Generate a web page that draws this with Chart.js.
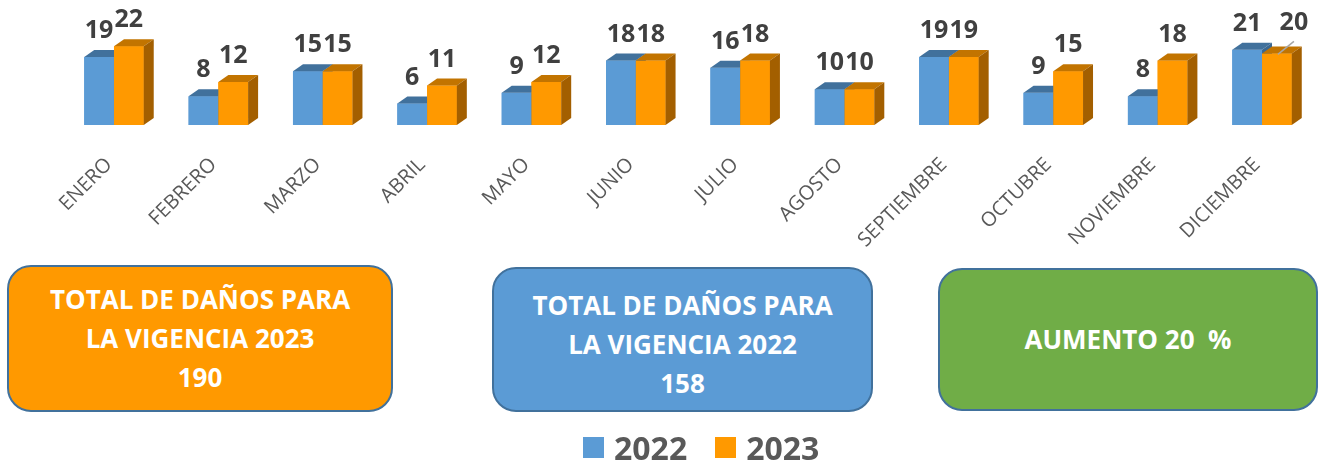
<!DOCTYPE html>
<html><head><meta charset="utf-8">
<script src="https://cdn.jsdelivr.net/npm/chart.js@4.4.1/dist/chart.umd.min.js"></script>
<style>
html,body{margin:0;padding:0;background:#fff;overflow:hidden}
#wrap{position:relative;width:1319px;height:463px;font-family:"Open Sans",sans-serif}
#c{position:absolute;left:0;top:0}
.box{position:absolute;box-sizing:border-box;border:2px solid #41719C;border-radius:24px;color:#fff;font-weight:700;font-size:26px;line-height:39px;display:flex;align-items:center;justify-content:center;text-align:center;white-space:pre}
#legend{position:absolute;left:583px;top:424px;height:46px;display:flex;align-items:center;font-weight:700;font-size:32px;color:#595959}
#legend .sw{width:21px;height:21px;margin-right:10px}
#legend .it{display:flex;align-items:center;margin-right:28px}
</style></head><body>
<div id="wrap">
<canvas id="c" width="1319" height="463"></canvas>
<div class="box" id="b23" style="left:7px;top:265px;width:386px;height:147px;background:#FF9900"></div>
<div class="box" id="b22" style="left:492px;top:267px;width:381px;height:145px;background:#5B9BD5;padding-top:10px"></div>
<div class="box" id="binc" style="left:938px;top:268px;width:380px;height:143px;background:#70AD47"></div>
<div id="legend"></div>
</div>
<script>
const months = ['ENERO','FEBRERO','MARZO','ABRIL','MAYO','JUNIO','JULIO','AGOSTO','SEPTIEMBRE','OCTUBRE','NOVIEMBRE','DICIEMBRE'];
const seriesNames = ['2022','2023'];
const values2022 = [19, 8, 15, 6, 9, 18, 16, 10, 19, 9, 8, 21];
const values2023 = [22, 12, 15, 11, 12, 18, 18, 10, 19, 15, 18, 20];
const increaseText = 'AUMENTO 20  %';

const faces = [
  {front:'#5B9BD5', top:'#41719C', side:'#3A6791'},
  {front:'#FF9900', top:'#C27400', side:'#A35F00'}
];
const DX = 10, DY = 7;

const sum = a => a.reduce((s,v)=>s+v,0);
document.getElementById('b23').innerHTML = 'TOTAL DE DAÑOS PARA<br>LA VIGENCIA ' + seriesNames[1] + '<br>' + sum(values2023);
document.getElementById('b22').innerHTML = 'TOTAL DE DAÑOS PARA<br>LA VIGENCIA ' + seriesNames[0] + '<br>' + sum(values2022);
document.getElementById('binc').textContent = increaseText;

const leg = document.getElementById('legend');
seriesNames.forEach((n,i)=>{
  const it = document.createElement('div'); it.className='it';
  const sw = document.createElement('div'); sw.className='sw'; sw.style.background = faces[i].front;
  const tx = document.createElement('span'); tx.textContent = n;
  it.appendChild(sw); it.appendChild(tx); leg.appendChild(it);
});

const threeD = {
  id:'threeD',
  afterDatasetsDraw(chart){
    const ctx = chart.ctx;
    const metas = chart.data.datasets.map((d,i)=>chart.getDatasetMeta(i));
    const n = chart.data.labels.length;
    ctx.save();
    for (let i=0;i<n;i++){
      metas.forEach((m,di)=>{
        const el = m.data[i]; const c = faces[di];
        const {x,y,base,width} = el.getProps(['x','y','base','width'], true);
        const l = x-width/2, r = x+width/2;
        ctx.fillStyle = c.front; ctx.fillRect(l,y,width,base-y);
        ctx.fillStyle = c.top; ctx.beginPath(); ctx.moveTo(l,y); ctx.lineTo(r,y); ctx.lineTo(r+DX,y-DY); ctx.lineTo(l+DX,y-DY); ctx.closePath(); ctx.fill();
        ctx.fillStyle = c.side; ctx.beginPath(); ctx.moveTo(r,y); ctx.lineTo(r+DX,y-DY); ctx.lineTo(r+DX,base-DY); ctx.lineTo(r,base); ctx.closePath(); ctx.fill();
      });
    }
    ctx.font = 'bold 25px "Open Sans"';
    ctx.fillStyle = '#404040';
    ctx.textAlign = 'center';
    ctx.textBaseline = 'alphabetic';
    metas.forEach((m,di)=>{
      const vals = chart.data.datasets[di].data;
      m.data.forEach((el,i)=>{
        const {x,y} = el.getProps(['x','y'], true);
        let lx = x, ly = y - 19;
        if (di===1 && i===n-1) {
          lx = x + 17; ly = y - 23;
          ctx.save(); ctx.strokeStyle='#A6A6A6'; ctx.lineWidth=1.5;
          ctx.beginPath(); ctx.moveTo(x+1,y+1); ctx.lineTo(x+17,y-12); ctx.stroke(); ctx.restore();
        }
        ctx.fillText(String(vals[i]), lx, ly);
      });
    });
    ctx.restore();
  }
};

function build(){
  new Chart(document.getElementById('c'), {
    type:'bar',
    data:{
      labels: months,
      datasets:[
        {label:seriesNames[0], data:values2022, backgroundColor:faces[0].front, borderWidth:0},
        {label:seriesNames[1], data:values2023, backgroundColor:faces[1].front, borderWidth:0}
      ]
    },
    options:{
      responsive:false, animation:false, devicePixelRatio:1,
      layout:{padding:{left:61.8, right:4.8, top:17.6, bottom:0}},
      categoryPercentage:0.57, barPercentage:1.0,
      plugins:{legend:{display:false}, tooltip:{enabled:false}},
      scales:{
        x:{
          grid:{display:false}, border:{display:false},
          ticks:{autoSkip:false, minRotation:45, maxRotation:45, padding:20, labelOffset:-5, color:'#595959', font:{family:'Open Sans', size:20}},
          afterFit(s){ s.height = 338; s.paddingLeft = 0; s.paddingRight = 0; }
        },
        y:{display:false, min:0, max:30}
      }
    },
    plugins:[threeD]
  });
}
Promise.all([document.fonts.load('bold 25px "Open Sans"'), document.fonts.load('20px "Open Sans"')]).then(build, build);
</script>
</body></html>
